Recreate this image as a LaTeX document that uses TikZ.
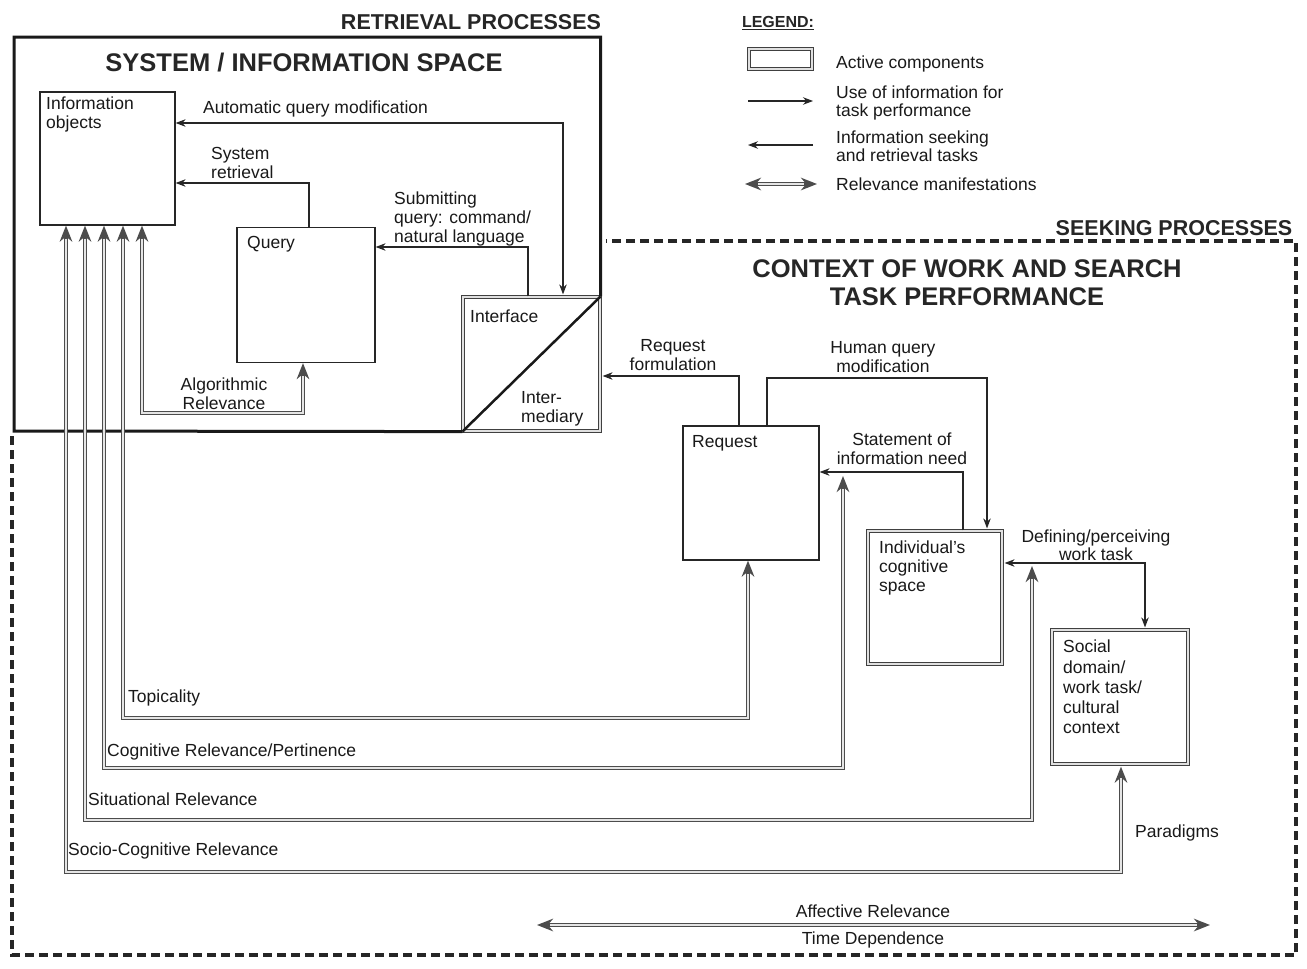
\documentclass[tikz,border=0pt]{standalone}
\usepackage{fontspec}
\setmainfont{Liberation Sans}
\usetikzlibrary{arrows.meta,calc}
\begin{document}
\begin{tikzpicture}[x=1pt,y=-1pt,
  lbl/.style={font=\fontsize{17.5}{19}\selectfont, inner sep=0pt, align=left, text=black!90},
  lblc/.style={lbl, align=center},
  ttl/.style={font=\bfseries\fontsize{21.5}{24}\selectfont, inner sep=0pt, text=black!85},
  bigttl/.style={font=\bfseries\fontsize{25.5}{28}\selectfont, inner sep=0pt, align=center, text=black!85},
  plainbox/.style={draw=black!85, line width=1.2pt, inner sep=0pt},
  activebox/.style={draw=black!75, double=black!12, line width=1.2pt, double distance=2pt, inner sep=0pt},
  arr/.style={draw=black!85, line width=1.1pt, -{Stealth[length=10pt,width=7.5pt]}},
  biarr/.style={draw=black!85, line width=1.1pt, {Stealth[length=10pt,width=7.5pt]}-{Stealth[length=10pt,width=7.5pt]}},
  rel/.style={draw=black!70, line width=4.6pt, {Stealth[length=16pt,width=12.5pt]}-{Stealth[length=16pt,width=12.5pt]},
    postaction={draw=black!10, line width=2pt, arrows=-, shorten <=13pt, shorten >=13pt}},
]
\useasboundingbox[fill=white] (0,0) rectangle (1307,969);

% ---------- boxes ----------
\node[plainbox, minimum width=135pt, minimum height=133pt] (info) at (107.5,158.5) {};
\node[plainbox, minimum width=138pt, minimum height=135pt] (query) at (306,295) {};
\node[activebox, minimum width=137pt, minimum height=134pt] (iface) at (531.5,364) {};
\node[plainbox, minimum width=136pt, minimum height=134pt] (request) at (751,493) {};
\node[activebox, minimum width=134pt, minimum height=133pt] (cog) at (935,597.5) {};
\node[activebox, minimum width=136pt, minimum height=134pt] (social) at (1120,697) {};

% outer solid box (system / information space)
\draw[line width=3pt, black!90] (iface.north east) -- (iface.north east |- 0,37) -- (14,37) -- (14,431) -- (iface.south west);
\draw[line width=2.5pt, black!90] (iface.south west) -- (iface.north east);

% dashed box (context of work and search task performance)
\draw[line width=3.5pt, black!85, dash pattern=on 9pt off 5pt] (12,436) -- (12,955) -- (1296,955) -- (1296,241) -- (606,241);

% ---------- titles ----------
\node[ttl] at (471,22) {RETRIEVAL PROCESSES};
\node[bigttl] at (304,63) {SYSTEM / INFORMATION SPACE};
\node[ttl] at (1174,228) {SEEKING PROCESSES};
\node[bigttl] at (967,283) {CONTEXT OF WORK AND SEARCH\\TASK PERFORMANCE};

% ---------- box labels ----------
\node[lbl, anchor=north west] at (46,97) {Information\\objects};
\node[lbl, anchor=north west] at (247,236) {Query};
\node[lbl, anchor=north west] at (470,310) {Interface};
\node[lbl, anchor=north west] at (521,391) {Inter-\\mediary};
\node[lbl, anchor=north west] at (692,435) {Request};
\node[lbl, anchor=north west] at (879,541) {Individual's\\cognitive\\space};
\node[lbl, font=\fontsize{17.5}{20.2}\selectfont, anchor=north west] at (1063,640) {Social\\domain/\\work task/\\cultural\\context};

% ---------- information flow arrows ----------
\draw[biarr, shorten <=2pt] (563,0 |- iface.north) -- (563,123) -- (info.east |- 0,123);
\node[lbl, anchor=north west] at (203,101) {Automatic query modification};

\draw[arr] (309,0 |- query.north) -- (309,183) -- (info.east |- 0,183);
\node[lbl, anchor=north west] at (211,147) {System\\retrieval};

\draw[arr] (528,0 |- iface.north) -- (528,247) -- (query.east |- 0,247);
\node[lbl, anchor=north west] at (394,192) {Submitting\\query: command/\\natural language};

\draw[arr, shorten >=2pt] (739,0 |- request.north) -- (739,376) -- (iface.east |- 0,376);
\node[lblc, anchor=north] at (673,339) {Request\\formulation};

\draw[arr, shorten >=2pt] (767,0 |- request.north) -- (767,378) -- (987,378) -- (987,0 |- cog.north);
\node[lblc, anchor=north] at (883,341) {Human query\\modification};

\draw[arr] (963,0 |- cog.north) -- (963,472) -- (request.east |- 0,472);
\node[lblc, anchor=north] at (902,433) {Statement of\\information need};

\draw[biarr, shorten >=2pt, shorten <=2pt] (1145,0 |- social.north) -- (1145,563) -- (cog.east |- 0,563);
\node[lblc, font=\fontsize{17.5}{17.5}\selectfont, anchor=north] at (1096,530) {Defining/perceiving\\work task};

% ---------- relevance manifestations ----------
\coordinate (cogend) at (843,476);
\coordinate (sitend) at (1032,566);
\draw[rel] (142,0 |- info.south) -- (142,413) -- (303,413) -- (303,0 |- query.south);
\node[lblc, anchor=north] at (224,378) {Algorithmic\\Relevance};

\draw[rel] (123,0 |- info.south) -- (123,718) -- (748,718) -- (748,0 |- request.south);
\node[lbl, anchor=north west] at (128,690) {Topicality};

\draw[rel] (104,0 |- info.south) -- (104,768) -- (843,768) -- (cogend);
\node[lbl, anchor=north west] at (107,744) {Cognitive Relevance/Pertinence};

\draw[rel] (85,0 |- info.south) -- (85,820) -- (1032,820) -- (sitend);
\node[lbl, anchor=north west] at (88,793) {Situational Relevance};

\draw[rel, shorten >=2pt] (66,0 |- info.south) -- (66,872) -- (1121,872) -- (1121,0 |- social.south);
\node[lbl, anchor=north west] at (68,843) {Socio-Cognitive Relevance};
\node[lbl, anchor=north west] at (1135,825) {Paradigms};

\coordinate (afl) at (537,925);
\coordinate (afr) at (1210,925);
\draw[rel] (afl) -- (afr);
\node[lblc, anchor=north] at (873,905) {Affective Relevance};
\node[lblc, anchor=north] at (873,932) {Time Dependence};

% ---------- legend ----------
\node[font=\bfseries\fontsize{16}{18}\selectfont, inner sep=0pt, text=black!85] at (778,23) {\underline{LEGEND:}};
\node[activebox, minimum width=63pt, minimum height=20pt] (legbox) at (780.5,59) {};
\node[lbl, anchor=north west] at (836,56) {Active components};
\coordinate (la1) at (748,101);
\coordinate (lb1) at (813,101);
\draw[arr] (la1) -- (lb1);
\node[lbl, font=\fontsize{17.5}{18}\selectfont, anchor=north west] at (836,86) {Use of information for\\task performance};
\coordinate (la2) at (813,145);
\coordinate (lb2) at (748,145);
\draw[arr] (la2) -- (lb2);
\node[lbl, font=\fontsize{17.5}{18}\selectfont, anchor=north west] at (836,131) {Information seeking\\and retrieval tasks};
\coordinate (la3) at (745,184);
\coordinate (lb3) at (817,184);
\draw[rel] (la3) -- (lb3);
\node[lbl, anchor=north west] at (836,178) {Relevance manifestations};
\end{tikzpicture}
\end{document}
